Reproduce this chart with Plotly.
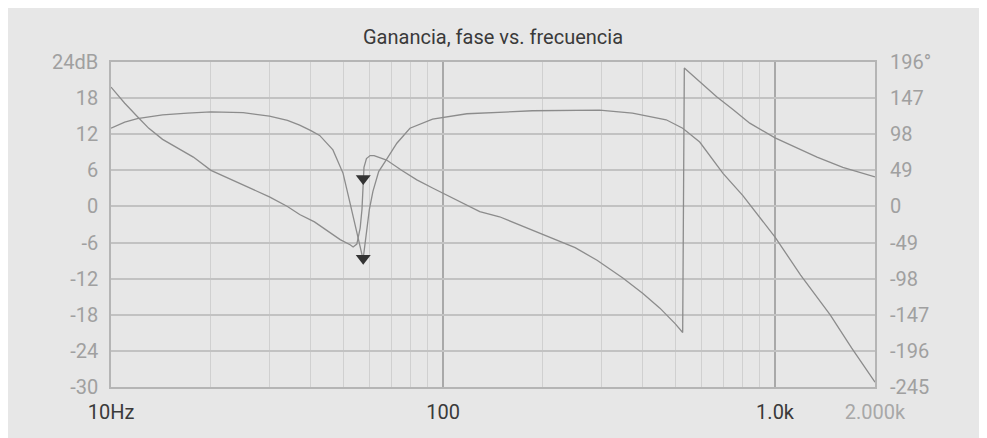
import plotly.graph_objects as go

# ---- data ----
freq_phase = [10, 11, 12, 13, 14.3, 16, 17.7, 20, 24, 27, 30, 34, 37, 41, 45.7, 49, 52.5,
              53.6, 55, 56.3, 57, 57.5, 57.8, 58.8, 60.3, 62, 64, 67.6, 75, 83.4, 93, 105,
              129, 148, 196, 250, 291, 348, 400, 450, 500, 527, 533, 600, 667, 750, 839,
              1000, 1150, 1338, 1600, 2000]
phase_deg = [162, 140, 122, 106, 91, 78, 67, 49, 33, 23, 13, 0, -11, -21, -36, -45, -52,
             -55, -51, -29, -4, 38, 53, 65, 69, 69, 67, 63, 49, 36, 25, 13,
             -7, -14, -36, -56, -73, -97, -118, -138, -159, -171, 188, 167, 149, 131, 113,
             93, 81, 67, 53, 40]

freq_gain = [10, 11, 12, 14.3, 17, 20, 25, 30, 34, 37, 40, 42.5, 46.6, 50, 52.5, 54, 55.5,
             57, 57.5, 58.2, 59, 60, 61.5, 64, 67, 72.6, 79.5, 93, 118, 148, 186, 296,
             372, 470, 527, 593, 697, 800, 898, 1000, 1194, 1466, 1700, 2000]
gain_db = [13.0, 14.0, 14.6, 15.2, 15.5, 15.7, 15.6, 15.0, 14.3, 13.5, 12.6, 11.8, 9.4, 5.5,
           0.5, -2.5, -5.5, -8.0, -8.6, -6.5, -3.5, -0.5, 2.5, 5.8, 7.5, 10.5, 13.0, 14.5,
           15.4, 15.7, 15.9, 16.0, 15.5, 14.4, 13.0, 10.7, 5.5, 1.8, -1.75, -5.1, -11.4,
           -18.0, -23.5, -29.2]

marker_freq = [57.5]
marker_phase = [38]
marker_gain = [-8.6]

x_tickvals = [10, 100, 1000, 2000]
x_ticktext = ["<span style='color:#3a3a3a'>10Hz</span>",
              "<span style='color:#3a3a3a'>100</span>",
              "<span style='color:#3a3a3a'>1.0k</span>",
              "<span style='color:#a8a8a8'>2.000k</span>"]
x_minor = [20, 30, 40, 50, 60, 70, 80, 90, 200, 300, 400, 500, 600, 700, 800, 900]

y_tickvals = [24, 18, 12, 6, 0, -6, -12, -18, -24, -30]
y_ticktext = ["24dB", "18", "12", "6", "0", "-6", "-12", "-18", "-24", "-30"]
y2_tickvals = [196, 147, 98, 49, 0, -49, -98, -147, -196, -245]
y2_ticktext = ["196°", "147", "98", "49", "0", "-49", "-98", "-147", "-196", "-245"]

FONT = "Roboto, Liberation Sans, sans-serif"
BG = "#e7e7e7"
CURVE = "#8c8c8c"

fig = go.Figure()
fig.add_trace(go.Scatter(x=freq_gain, y=gain_db, mode="lines",
                         line=dict(color=CURVE, width=1.3), yaxis="y", showlegend=False))
fig.add_trace(go.Scatter(x=freq_phase, y=phase_deg, mode="lines",
                         line=dict(color=CURVE, width=1.3), yaxis="y2", showlegend=False))
fig.add_trace(go.Scatter(x=marker_freq, y=marker_gain, mode="markers",
                         marker=dict(symbol="triangle-down", size=13, color="#333333"),
                         yaxis="y", showlegend=False))
fig.add_trace(go.Scatter(x=marker_freq, y=marker_phase, mode="markers",
                         marker=dict(symbol="triangle-down", size=13, color="#333333"),
                         yaxis="y2", showlegend=False))

fig.update_layout(
    width=979, height=430,
    margin=dict(l=103, r=112, t=54, b=51),
    paper_bgcolor=BG,
    plot_bgcolor=BG,
    font=dict(family=FONT, size=20, color="#a0a0a0"),
    title=dict(text="Ganancia, fase vs. frecuencia", x=0.5, xref="paper", xanchor="center",
               y=1.0, yref="paper", yanchor="bottom", pad=dict(b=18),
               font=dict(family=FONT, size=20, color="#3a3a3a")),
    xaxis=dict(type="log", range=[1, 3.30103], tickvals=x_tickvals, ticktext=x_ticktext,
               showgrid=True, gridcolor="#a9a9a9", gridwidth=1.5,
               minor=dict(tickvals=x_minor, showgrid=True, gridcolor="#d0d0d0", gridwidth=1),
               showline=True, mirror=True, linecolor="#b5b5b5", linewidth=1.5,
               ticks="", ticklabelstandoff=6, zeroline=False),
    yaxis=dict(range=[-30, 24], tickvals=y_tickvals, ticktext=y_ticktext,
               showgrid=True, gridcolor="#c2c2c2", gridwidth=1.5,
               showline=True, mirror=True, linecolor="#b5b5b5", linewidth=1.5,
               ticks="", ticklabelstandoff=7, zeroline=False),
    yaxis2=dict(range=[-245, 196], tickvals=y2_tickvals, ticktext=y2_ticktext,
                overlaying="y", side="right", showgrid=False, showline=False,
                ticks="", ticklabelstandoff=14, zeroline=False),
)

fig.write_html("out.html")
